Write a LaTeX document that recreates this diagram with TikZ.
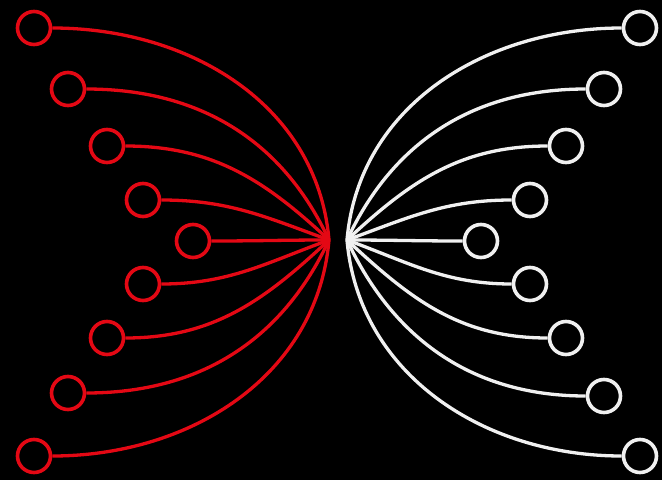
\documentclass[tikz,border=0pt]{standalone}
\usetikzlibrary{arrows.meta}
\definecolor{wingred}{RGB}{228,8,20}
\definecolor{wingwhite}{RGB}{240,240,240}
\tikzset{
  pin/.style={circle,draw,line width=3.6pt,minimum size=33pt,inner sep=0pt},
  wire/.style={line width=3.3pt}
}

\begin{document}
\begin{tikzpicture}[x=1pt,y=-1pt]
  \fill[black] (0,0) rectangle (662,480);
  \coordinate (cl) at (329,240);
  \coordinate (cr) at (347,240);
  % left wing, red
  \foreach \i/\x/\y/\a in {1/34/28/95,2/68/89/115,3/107/146/137,4/143/200/160,5/193/241/180,
                           6/143/284/200,7/107/338/223,8/68/393/245,9/34/456/265} {
    \node[pin,wingred] (l\i) at (\x,\y) {};
    \draw[wire,wingred] (l\i.east) to[out=0,in=\a] (cl);
  }
  % right wing, white
  \foreach \i/\x/\y/\a in {1/640/28/85,2/604/89/65,3/566/146/43,4/530/200/20,5/481/241/0,
                           6/530/284/-20,7/566/338/-43,8/604/396/-65,9/640/456/-85} {
    \node[pin,wingwhite] (r\i) at (\x,\y) {};
    \draw[wire,wingwhite] (r\i.west) to[out=180,in=\a] (cr);
  }
\end{tikzpicture}
\end{document}
